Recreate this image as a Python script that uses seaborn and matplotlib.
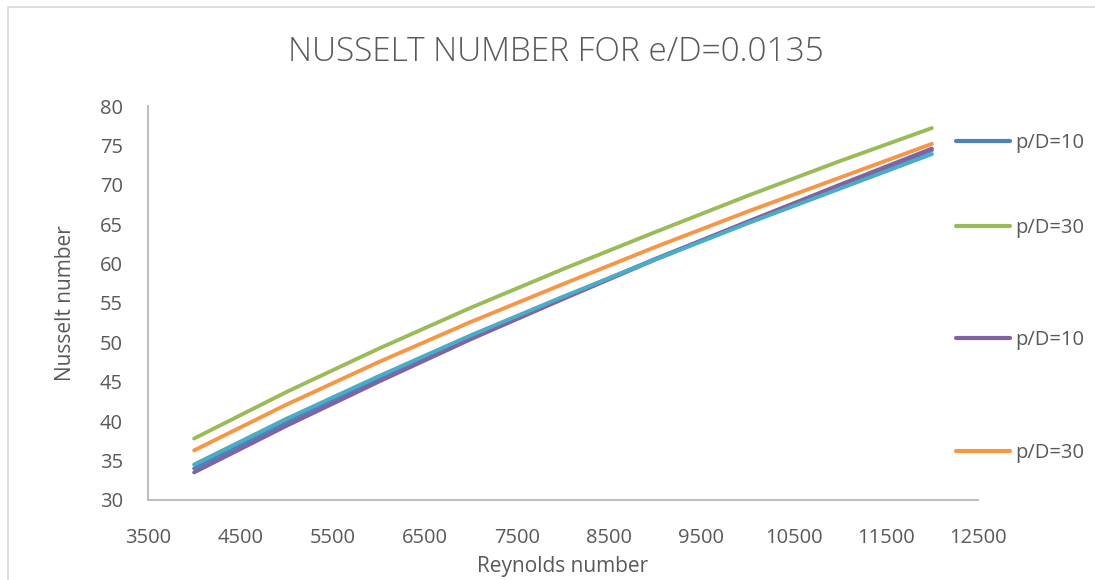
import pandas as pd
import seaborn as sns
import matplotlib.pyplot as plt
from matplotlib.lines import Line2D
from matplotlib.patches import Rectangle

# Reynolds numbers and Nusselt numbers
reynolds = [4000, 5000, 6000, 7000, 8000, 9000, 10000, 11000, 12000]
nu_blue = [34.0, 39.8, 45.4, 50.7, 55.7, 60.6, 65.3, 69.9, 74.4]
nu_green = [37.8, 43.7, 49.2, 54.4, 59.3, 64.0, 68.6, 73.0, 77.2]
nu_purple = [33.5, 39.4, 45.0, 50.4, 55.5, 60.5, 65.3, 70.0, 74.6]
nu_cyan = [34.5, 40.3, 45.7, 50.9, 55.8, 60.5, 65.1, 69.5, 73.9]
nu_orange = [36.3, 42.1, 47.5, 52.6, 57.4, 62.1, 66.6, 70.9, 75.2]

series_names = ['s1', 's2', 's3', 's4', 's5']
series_values = [nu_blue, nu_green, nu_purple, nu_cyan, nu_orange]
series_colors = ['#4F81BD', '#9BBB59', '#8064A2', '#4BACC6', '#F79646']
legend_labels = ['p/D=10', 'p/D=30', 'p/D=10', 'p/D=30']
legend_colors = ['#4F81BD', '#9BBB59', '#8064A2', '#F79646']

x_ticks = [3500, 4500, 5500, 6500, 7500, 8500, 9500, 10500, 11500, 12500]
y_ticks = [30, 35, 40, 45, 50, 55, 60, 65, 70, 75, 80]

# long-form table for seaborn
rows = []
for name, vals in zip(series_names, series_values):
    for re, nu in zip(reynolds, vals):
        rows.append({'Re': re, 'Nu': nu, 'series': name})
df = pd.DataFrame(rows)

sns.set_style('white')
plt.rcParams['font.family'] = ['Open Sans', 'DejaVu Sans']
text_col = '#595959'

fig = plt.figure(figsize=(10.95, 5.8), dpi=100)
ax = fig.add_axes([148 / 1095, 1 - 500 / 580, 830 / 1095, 394 / 580])

sns.lineplot(data=df, x='Re', y='Nu', hue='series',
             palette=dict(zip(series_names, series_colors)),
             linewidth=2.8, legend=False, ax=ax)

ax.set_xlim(3500, 12500)
ax.set_ylim(30, 80)
ax.set_xticks(x_ticks)
ax.set_yticks(y_ticks)
ax.tick_params(axis='both', length=0, labelsize=14.5, colors=text_col)
ax.tick_params(axis='x', pad=20)
ax.tick_params(axis='y', pad=18)
for s in ['top', 'right']:
    ax.spines[s].set_visible(False)
for s in ['left', 'bottom']:
    ax.spines[s].set_color('#BFBFBF')
    ax.spines[s].set_linewidth(1.5)

ax.set_xlabel('Reynolds number', fontsize=15, color=text_col, labelpad=6)
ax.set_ylabel('Nusselt number', fontsize=15, color=text_col, labelpad=17)

fig.text(0.508, 1 - 52 / 580, 'NUSSELT NUMBER FOR e/D=0.0135', ha='center',
         va='center', fontsize=24, color=text_col, fontweight='light')

# legend entries placed one by one, as in the original
legend_y = [143, 228, 340, 453]
for lab, col, y in zip(legend_labels, legend_colors, legend_y):
    fig.legend(handles=[Line2D([0], [0], color=col, lw=3)], labels=[lab],
               loc='center left', bbox_to_anchor=(956 / 1095, 1 - y / 580),
               frameon=False, fontsize=14.5, handlelength=2.7,
               handletextpad=0.25, borderpad=0, borderaxespad=0,
               labelcolor=text_col)

# chart area border
fig.patches.append(Rectangle((8 / 1095, -0.01), 1.2, 1 - 7 / 580 + 0.01,
                             transform=fig.transFigure, fill=False,
                             edgecolor='#D9D9D9', linewidth=1.2))

fig.savefig('out.png', dpi=100)
